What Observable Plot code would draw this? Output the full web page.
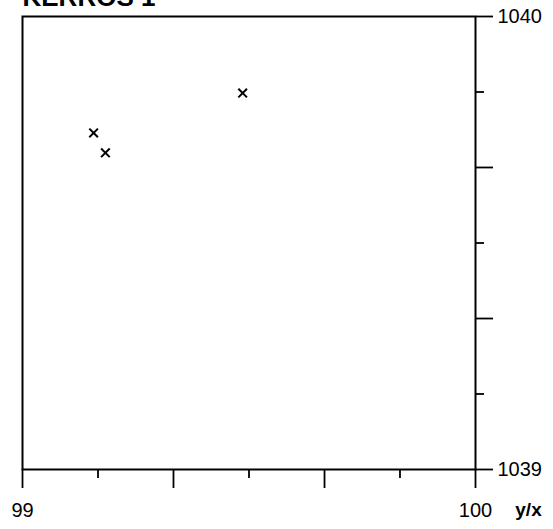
<!DOCTYPE html>
<html><head><meta charset="utf-8">
<script src="https://cdn.jsdelivr.net/npm/d3@7"></script>
<script src="https://cdn.jsdelivr.net/npm/@observablehq/plot@0.6"></script>
<style>body{margin:0;background:#fff}</style>
</head><body><div id="chart"></div>
<script>
const title = "KERROS 1";
const axisName = "y/x";
const xValues = [99.157, 99.183, 99.486];
const yValues = [1039.743, 1039.699, 1039.831];
const xDomain = [99, 100];
const yDomain = [1039, 1040];
const xMajorTicks = [99, 99.3333, 99.6667, 100];
const xMinorTicks = [99.1667, 99.5, 99.8333];
const xTickLabels = [99, 100];
const yMajorTicks = [1039, 1039.3333, 1039.6667, 1040];
const yMinorTicks = [1039.1667, 1039.5, 1039.8333];
const yTickLabels = [1039, 1040];

const points = xValues.map((x, i) => ({x, y: yValues[i]}));
const fmt = labels => d => labels.includes(d) ? String(d) : "";

const chart = Plot.plot({
  width: 553,
  height: 529,
  marginLeft: 22,
  marginRight: 78,
  marginTop: 16,
  marginBottom: 60,
  style: {fontFamily: "'Liberation Sans', Arial, sans-serif", fontSize: "20px", color: "black", background: "white"},
  x: {domain: xDomain},
  y: {domain: yDomain},
  marks: [
    Plot.frame({stroke: "black", strokeWidth: 2}),
    Plot.axisX({ticks: xMajorTicks, tickSize: 19, tickPadding: 14, tickFormat: fmt(xTickLabels), strokeWidth: 1.8, label: null}),
    Plot.axisX({ticks: xMinorTicks, tickSize: 9, tickFormat: () => "", strokeWidth: 1.8, label: null}),
    Plot.axisY({anchor: "right", ticks: yMajorTicks, tickSize: 17, tickPadding: 5, tickFormat: fmt(yTickLabels), strokeWidth: 1.8, label: null}),
    Plot.axisY({anchor: "right", ticks: yMinorTicks, tickSize: 8, tickFormat: () => "", strokeWidth: 1.8, label: null}),
    Plot.dot(points, {x: "x", y: "y", symbol: "times", r: 4, stroke: "black", strokeWidth: 2}),
    Plot.text([title], {frameAnchor: "top-left", text: d => d, textAnchor: "start", lineAnchor: "bottom", dy: -11, fontSize: 26, fontWeight: "bold"}),
    Plot.text([axisName], {frameAnchor: "bottom-right", text: d => d, textAnchor: "middle", lineAnchor: "top", dx: 53, dy: 33, fontSize: 19, fontWeight: "bold"})
  ]
});
document.getElementById("chart").appendChild(chart);
</script>
</body></html>
